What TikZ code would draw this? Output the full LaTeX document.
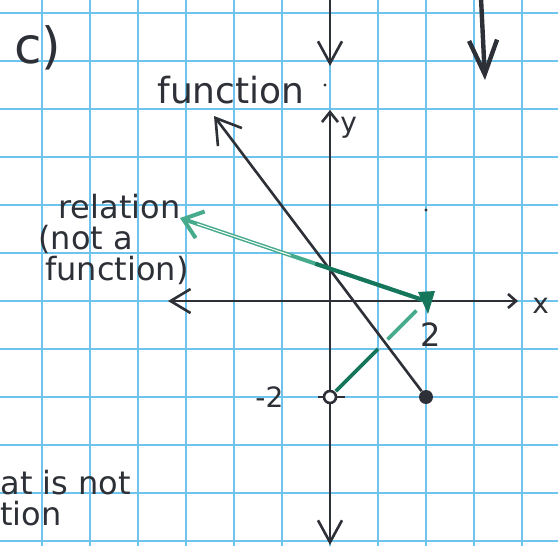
\documentclass[tikz,border=0pt]{standalone}
\usepackage{fontspec}
\setmainfont{DejaVu Sans}
\usetikzlibrary{arrows.meta,calc}
\definecolor{gridblue}{RGB}{110,196,236}
\definecolor{ink}{RGB}{45,48,54}
\definecolor{tealdark}{RGB}{22,118,92}
\definecolor{teallight}{RGB}{70,170,140}
\tikzset{
  gridline/.style={gridblue,line width=0.75pt},
  axis/.style={ink,line width=1.3pt},
  barb/.style={ink,line width=1.3pt},
  lbl/.style={inner sep=0pt,anchor=base west,text=ink},
  soliddot/.style={circle,fill=ink,inner sep=0pt,minimum size=7pt},
  ringdot/.style={circle,draw=ink,line width=1.3pt,fill=white,inner sep=0pt,minimum size=6pt},
  speck/.style={circle,fill=ink,inner sep=0pt,minimum size=1.6pt}
}
\begin{document}
\begin{tikzpicture}[x=0.5pt,y=-0.5pt]
\useasboundingbox (0,0) rectangle (558,546);
\clip (0,0) rectangle (558,546);
\fill[white] (0,0) rectangle (558,546);
% grid paper
\foreach \gx in {42,90,...,522} \draw[gridline] (\gx,0) -- (\gx,546);
\foreach \gy in {13,61,...,541} \draw[gridline] (0,\gy) -- (558,\gy);

% coordinates
\coordinate (O) at (330,301);
\coordinate (A) at (426,301);
\coordinate (ytop) at (330,110);
\coordinate (ybot) at (330,545);
\coordinate (xleft) at (168,301);
\coordinate (xright) at (518,301);
\coordinate (topstart) at (330,-2);
\coordinate (topend) at (330,66);
\coordinate (trstart) at (481,-2);
\coordinate (trend) at (485,80);
\coordinate (ftip) at (214,116);
\coordinate (rtip) at (180,218);

% axes
\draw[axis,{Straight Barb[length=5pt,width=8pt]}-{Straight Barb[length=11pt,width=12pt]}] (ytop) -- (ybot);
\draw[axis,{Straight Barb[length=10pt,width=12pt]}-{Straight Barb[length=4pt,width=7pt]}] (xleft) -- (xright);
\draw[axis,-{Straight Barb[length=11pt,width=12pt]}] (topstart) -- (topend);
\draw[ink,line width=2.2pt,-{Straight Barb[length=17pt,width=14pt]}] (trstart) -- (trend);

% small marks
\node[speck] (s1) at (325,85) {};
\node[speck] (s2) at (426,210) {};

% points
\node[soliddot] (C) at (426,397) {};
\draw[axis] (318,397) -- (345,397);
\node[ringdot] (B) at (330,397) {};

% function line
\draw[barb,-{Straight Barb[length=12pt,width=15pt]}] (C) -- (ftip);

% relation arrow
\draw[teallight,line width=2pt,-{Straight Barb[length=9pt,width=14pt]}] (A) -- (rtip);
\draw[tealdark,line width=2pt] (A) -- ($(A)!0.45!(rtip)$);
\draw[white,line width=0.5pt] ($(A)!0.55!(rtip)$) -- ($(A)!0.93!(rtip)$);

% segment from B to A
\draw[tealdark,line width=1.8pt] ($(B)!0.06!(A)$) -- ($(B)!0.5!(A)$);
\draw[teallight,line width=1.8pt] ($(B)!0.6!(A)$) -- ($(B)!0.9!(A)$);
\fill[tealdark] (418,292) -- (435,291) -- (428,314) -- cycle;

% labels
\node[lbl,font=\fontsize{25pt}{28pt}\selectfont] (c) at (14,63) {c)};
\node[lbl,font=\fontsize{18pt}{21pt}\selectfont] (func) at (157,104) {function};
\node[lbl,font=\fontsize{14pt}{16pt}\selectfont] (ylab) at (340,133) {y};
\node[lbl,font=\fontsize{14pt}{16pt}\selectfont] (xlab) at (532,313) {x};
\node[lbl,font=\fontsize{16pt}{19pt}\selectfont] (rel1) at (58,218) {relation};
\node[lbl,font=\fontsize{16pt}{19pt}\selectfont] (rel2) at (38,249) {(not a};
\node[lbl,font=\fontsize{16pt}{19pt}\selectfont] (rel3) at (45,280) {function)};
\node[lbl,font=\fontsize{16pt}{18pt}\selectfont] (two) at (420,346) {2};
\node[lbl,font=\fontsize{14pt}{16pt}\selectfont] (mtwo) at (255,407) {-2};
\node[lbl,font=\fontsize{16pt}{19pt}\selectfont] (bl1) at (0,494) {at is not};
\node[lbl,font=\fontsize{16pt}{19pt}\selectfont] (bl2) at (0,525) {tion};
\end{tikzpicture}
\end{document}
